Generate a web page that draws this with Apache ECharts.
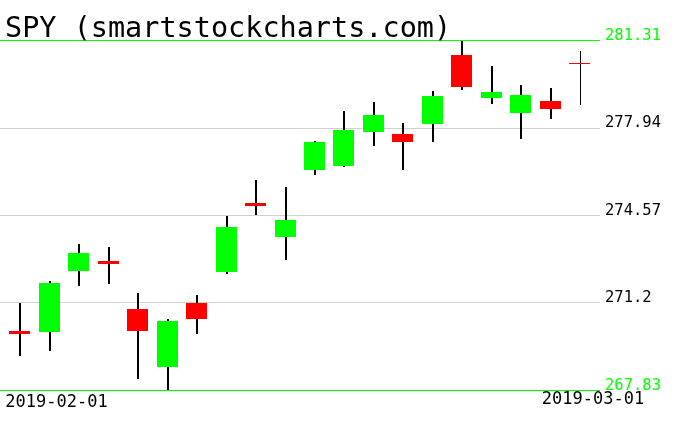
<!DOCTYPE html>
<html>
<head>
<meta charset="utf-8">
<script src="https://cdn.jsdelivr.net/npm/echarts@6/dist/echarts.min.js"></script>
<style>
  html, body { margin: 0; padding: 0; background: #fff; }
  #chart { width: 676px; height: 431px; }
</style>
</head>
<body>
<div id="chart"></div>
<script>
// ---- data ----
const dates = ["2019-02-01","2019-02-04","2019-02-05","2019-02-06","2019-02-07","2019-02-08",
  "2019-02-11","2019-02-12","2019-02-13","2019-02-14","2019-02-15","2019-02-19","2019-02-20",
  "2019-02-21","2019-02-22","2019-02-25","2019-02-26","2019-02-27","2019-02-28","2019-03-01"];
const openV  = [270.11,270.08,272.42,272.81,270.96,268.73,271.20,272.39,275.05,273.74,276.32,276.47,277.79,277.70,278.10,280.75,279.10,278.53,278.98,280.45];
const closeV = [270.05,271.97,273.11,272.70,270.12,270.50,270.57,274.13,274.98,274.39,277.41,277.86,278.44,277.40,279.17,279.53,279.32,279.21,278.68,280.42];
const lowV   = [269.14,269.35,271.85,271.91,268.27,267.83,270.00,272.32,274.58,272.86,276.13,276.44,277.25,276.32,277.41,279.40,278.87,277.50,278.29,278.83];
const highV  = [271.20,272.04,273.46,273.35,271.57,270.57,271.50,274.54,275.93,275.66,277.43,278.59,278.94,278.13,279.36,281.31,280.34,279.59,279.48,280.91];
const yTicks = [267.83, 271.20, 274.57, 277.94, 281.31];
const xLabelDates = ["2019-02-01", "2019-03-01"];
const titleText = "SPY (smartstockcharts.com)";

const seriesData = dates.map((d, i) => [i, openV[i], closeV[i], lowV[i], highV[i]]);
const lastIdx = dates.length - 1;

const chart = echarts.init(document.getElementById('chart'), null, { renderer: 'canvas' });
const MONO = "'DejaVu Sans Mono', monospace";

chart.setOption({
  animation: false,
  backgroundColor: '#ffffff',
  title: {
    text: titleText,
    left: 0,
    top: 10,
    textStyle: { fontFamily: MONO, fontSize: 28.5, fontWeight: 'normal', color: '#000' }
  },
  grid: { left: 0, right: 76, top: 40.5, bottom: 41, containLabel: false },
  xAxis: {
    type: 'value',
    min: -0.696,
    max: 19.68,
    axisLine: { show: false },
    axisTick: { show: false },
    splitLine: { show: false },
    axisLabel: {
      customValues: [0, lastIdx],
      margin: 1,
      formatter: function (v) {
        return v === 0 ? '{a|' + xLabelDates[0] + '}' : '{b|' + xLabelDates[1] + '}';
      },
      rich: {
        a: { fontFamily: MONO, fontSize: 17, color: '#000', padding: [3, 0, 0, 72] },
        b: { fontFamily: MONO, fontSize: 17, color: '#000', padding: [0, 0, 0, 26] }
      }
    }
  },
  yAxis: {
    type: 'value',
    position: 'right',
    min: yTicks[0],
    max: yTicks[yTicks.length - 1],
    interval: 3.37,
    axisLine: { show: false },
    axisTick: { show: false },
    splitLine: {
      show: true,
      lineStyle: { color: ['#00ff00', '#d0d0d0', '#d0d0d0', '#d0d0d0', '#00ff00'], width: 1 }
    },
    axisLabel: {
      margin: 5,
      fontFamily: MONO,
      fontSize: 15.5,
      verticalAlign: 'bottom',
      lineHeight: 9,
      color: function (val, idx) {
        return (Math.abs(val - yTicks[0]) < 0.01 || Math.abs(val - yTicks[yTicks.length - 1]) < 0.01) ? '#00ff00' : '#000';
      },
      formatter: function (v) { return String(Math.round(v * 100) / 100); }
    }
  },
  series: [{
    type: 'custom',
    data: seriesData,
    encode: { x: 0, y: [1, 2, 3, 4] },
    clip: false,
    renderItem: function (params, api) {
      const i = api.value(0);
      const o = api.value(1), c = api.value(2), l = api.value(3), h = api.value(4);
      const pO = api.coord([i, o]);
      const pC = api.coord([i, c]);
      const pL = api.coord([i, l]);
      const pH = api.coord([i, h]);
      const isLast = params.dataIndex === lastIdx;
      const w = Math.round(api.size([1, 0])[0] * 0.72);
      const cx = Math.round(pO[0]);
      const wickX = isLast ? cx + 0.5 : cx;
      const color = c > o ? '#00ff00' : '#ff0000';
      let top, bot;
      if (isLast) {
        top = Math.round((pO[1] + pC[1]) / 2);
        bot = top + 1;
      } else {
        top = Math.round(Math.min(pO[1], pC[1]));
        bot = Math.round(Math.max(pO[1], pC[1]));
        if (bot - top < 3) { const m = Math.round((pO[1] + pC[1]) / 2); top = m - 1; bot = m + 2; }
      }
      const body = { type: 'rect', shape: { x: cx - Math.round(w / 2), y: top, width: w, height: bot - top },
                     style: { fill: color } };
      return {
        type: 'group',
        children: [
          { type: 'line', shape: { x1: wickX, y1: Math.round(pH[1]), x2: wickX, y2: Math.round(pL[1]) },
            style: { stroke: '#000', lineWidth: isLast ? 1 : 2 } },
          body
        ]
      };
    }
  }]
});
</script>
</body>
</html>
